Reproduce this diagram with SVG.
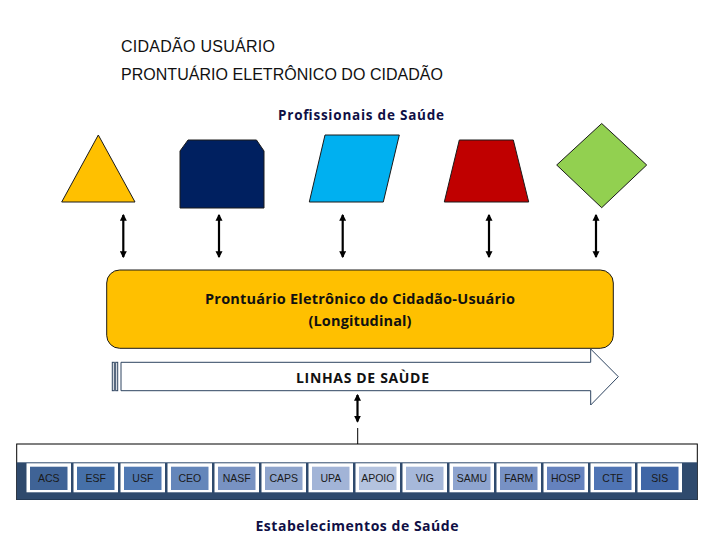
<svg xmlns="http://www.w3.org/2000/svg" width="720" height="540" viewBox="0 0 720 540">
<defs>
<style>
.t{font-family:"Liberation Sans",Arial,sans-serif;}
.b{font-family:"Open Sans","Liberation Sans",sans-serif;font-weight:bold;}
.shape{stroke:#1a1a1a;stroke-width:1;}
.conn{stroke:#000;stroke-width:2.2;fill:none;}
.cellw{fill:#fff;}
.cellt{font-family:"Liberation Sans",Arial,sans-serif;font-size:10.5px;fill:#1a1a1a;text-anchor:middle;}
</style>
<marker id="ah" viewBox="0 0 6 6" refX="5" refY="3" markerWidth="3.2" markerHeight="3.2" orient="auto-start-reverse">
<path d="M0,0 L6,3 L0,6 z" fill="#000"/>
</marker>
</defs>
<rect width="720" height="540" fill="#fff"/>

<g id="title">
<text class="t" x="121" y="52" font-size="16" fill="#111" textLength="154">CIDADÃO USUÁRIO</text>
<text class="t" x="121" y="80" font-size="16" fill="#111" textLength="322">PRONTUÁRIO ELETRÔNICO DO CIDADÃO</text>
</g>
<g id="prof-label">
<text class="b" x="361" y="120" font-size="13.5" fill="#0f0f45" text-anchor="middle" textLength="166">Profissionais de Saúde</text>
</g>

<g id="triangle"><polygon class="shape" points="98.3,135 135,202 61.7,202" fill="#FFC000"/></g>
<g id="navy"><polygon class="shape" points="180,151 188,140 256.5,140 264,151 264,208 180,208" fill="#002060"/></g>
<g id="parallelogram"><polygon class="shape" points="325,135 399.3,135 383.3,202 309.3,202" fill="#00B0F0"/></g>
<g id="trapezoid"><polygon class="shape" points="459.3,140 513.3,140 528.7,202 444.3,202" fill="#C00000"/></g>
<g id="diamond"><polygon class="shape" points="601.7,123.5 646.7,165 601.7,207.7 556.7,165" fill="#92D050"/></g>

<g id="prontuario">
<rect x="106.7" y="270" width="506.6" height="78.3" rx="13" fill="#FFC000" stroke="#1a1a1a" stroke-width="1"/>
<text class="b" x="360" y="304" font-size="14.5" fill="#111" text-anchor="middle" textLength="310">Prontuário Eletrônico do Cidadão-Usuário</text>
<text class="b" x="360" y="326" font-size="14.5" fill="#111" text-anchor="middle" textLength="103">(Longitudinal)</text>
</g>

<g id="linhas">
<rect x="112.3" y="362.3" width="2" height="28.4" fill="#fff" stroke="#2e4460" stroke-width="1"/>
<rect x="115.7" y="362.3" width="2" height="28.4" fill="#fff" stroke="#2e4460" stroke-width="1"/>
<polygon points="121,362.3 590.7,362.3 590.7,349 618.3,376.7 590.7,405 590.7,390.7 121,390.7" fill="#fff" stroke="#2e4460" stroke-width="1"/>
<text class="b" x="362.5" y="383" font-size="14" fill="#111" text-anchor="middle" textLength="133">LINHAS DE SAÙDE</text>
</g>

<g id="connectors">
<line class="conn" x1="123.3" y1="215" x2="123.3" y2="257" marker-start="url(#ah)" marker-end="url(#ah)"/>
<line class="conn" x1="219" y1="215" x2="219" y2="257" marker-start="url(#ah)" marker-end="url(#ah)"/>
<line class="conn" x1="342.7" y1="215" x2="342.7" y2="257" marker-start="url(#ah)" marker-end="url(#ah)"/>
<line class="conn" x1="489" y1="215" x2="489" y2="257" marker-start="url(#ah)" marker-end="url(#ah)"/>
<line class="conn" x1="596" y1="215" x2="596" y2="257" marker-start="url(#ah)" marker-end="url(#ah)"/>
<line class="conn" x1="357.5" y1="395" x2="357.5" y2="421.5" marker-start="url(#ah)" marker-end="url(#ah)"/>
<line x1="357.7" y1="428" x2="357.7" y2="444" stroke="#000" stroke-width="1"/>
</g>

<g id="estabelecimentos">
<rect x="16.7" y="444" width="680.6" height="55.5" fill="#fff" stroke="#000" stroke-width="1"/>
<rect x="16.7" y="462.3" width="680.6" height="37.5" fill="#2f4a6d"/>
<g id="cell-ACS"><rect class="cellw" x="26.5" y="463.3" width="44.5" height="29"/><rect x="30" y="466.7" width="37.5" height="23.3" fill="#3f6396"/><text class="cellt" x="48.8" y="482">ACS</text></g>
<g id="cell-ESF"><rect class="cellw" x="73.5" y="463.3" width="44.5" height="29"/><rect x="77" y="466.7" width="37.5" height="23.3" fill="#4670a8"/><text class="cellt" x="95.8" y="482">ESF</text></g>
<g id="cell-USF"><rect class="cellw" x="120.5" y="463.3" width="44.5" height="29"/><rect x="124" y="466.7" width="37.5" height="23.3" fill="#5079b3"/><text class="cellt" x="142.8" y="482">USF</text></g>
<g id="cell-CEO"><rect class="cellw" x="167.5" y="463.3" width="44.5" height="29"/><rect x="171" y="466.7" width="37.5" height="23.3" fill="#6486ba"/><text class="cellt" x="189.8" y="482">CEO</text></g>
<g id="cell-NASF"><rect class="cellw" x="214.5" y="463.3" width="44.5" height="29"/><rect x="218" y="466.7" width="37.5" height="23.3" fill="#7892c2"/><text class="cellt" x="236.8" y="482">NASF</text></g>
<g id="cell-CAPS"><rect class="cellw" x="261.5" y="463.3" width="44.5" height="29"/><rect x="265" y="466.7" width="37.5" height="23.3" fill="#8ea4cc"/><text class="cellt" x="283.8" y="482">CAPS</text></g>
<g id="cell-UPA"><rect class="cellw" x="308.5" y="463.3" width="44.5" height="29"/><rect x="312" y="466.7" width="37.5" height="23.3" fill="#a2b4d7"/><text class="cellt" x="330.8" y="482">UPA</text></g>
<g id="cell-APOIO"><rect class="cellw" x="355.5" y="463.3" width="44.5" height="29"/><rect x="359" y="466.7" width="37.5" height="23.3" fill="#b4c3df"/><text class="cellt" x="377.8" y="482">APOIO</text></g>
<g id="cell-VIG"><rect class="cellw" x="402.5" y="463.3" width="44.5" height="29"/><rect x="406" y="466.7" width="37.5" height="23.3" fill="#a6b8da"/><text class="cellt" x="424.8" y="482">VIG</text></g>
<g id="cell-SAMU"><rect class="cellw" x="449.5" y="463.3" width="44.5" height="29"/><rect x="453" y="466.7" width="37.5" height="23.3" fill="#8ea4cf"/><text class="cellt" x="471.8" y="482">SAMU</text></g>
<g id="cell-FARM"><rect class="cellw" x="496.5" y="463.3" width="44.5" height="29"/><rect x="500" y="466.7" width="37.5" height="23.3" fill="#7791c4"/><text class="cellt" x="518.8" y="482">FARM</text></g>
<g id="cell-HOSP"><rect class="cellw" x="543.5" y="463.3" width="44.5" height="29"/><rect x="547" y="466.7" width="37.5" height="23.3" fill="#6582be"/><text class="cellt" x="565.8" y="482">HOSP</text></g>
<g id="cell-CTE"><rect class="cellw" x="590.5" y="463.3" width="44.5" height="29"/><rect x="594" y="466.7" width="37.5" height="23.3" fill="#4f74b4"/><text class="cellt" x="612.8" y="482">CTE</text></g>
<g id="cell-SIS"><rect class="cellw" x="637.5" y="463.3" width="44.5" height="29"/><rect x="641" y="466.7" width="37.5" height="23.3" fill="#4066a6"/><text class="cellt" x="659.8" y="482">SIS</text></g>
</g>
<g id="estab-label">
<text class="b" x="357" y="531" font-size="14" fill="#0f0f45" text-anchor="middle" textLength="203">Estabelecimentos de Saúde</text>
</g>
</svg>
